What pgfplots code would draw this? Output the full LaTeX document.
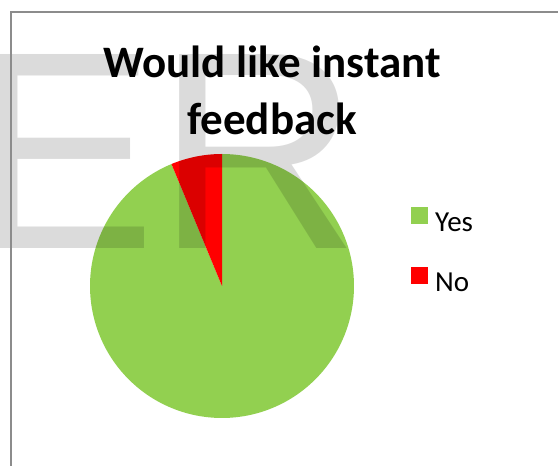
\documentclass[border=0pt]{standalone}
\usepackage{fontspec}
\setmainfont{Carlito}
\newfontfamily\wmfont{Liberation Sans}
\usepackage{pgfplots}
\pgfplotsset{compat=1.18}
\usepackage{pgfplotstable}
\definecolor{pieGreen}{HTML}{92D050}
\definecolor{pieRed}{HTML}{FF0000}
\definecolor{frameGray}{HTML}{8C8C8C}

\pgfplotstableread{
label value
Yes 15
No 1
}\piedata

\begin{document}
\begin{tikzpicture}[x=1pt,y=1pt]
\useasboundingbox (0,0) rectangle (558,466);
\clip (0,0) rectangle (558,466);
\fill[white] (0,0) rectangle (558,466);
\pgfplotstablegetelem{0}{value}\of\piedata \let\vYes\pgfplotsretval
\pgfplotstablegetelem{1}{value}\of\piedata \let\vNo\pgfplotsretval
\pgfmathsetmacro\startYes{90-360*\vYes/(\vYes+\vNo)}
\pgfmathsetmacro\endNo{90+360*\vNo/(\vYes+\vNo)}
\begin{axis}[at={(222pt,180pt)}, anchor=origin,
  width=264pt, height=264pt, scale only axis, hide axis,
  xmin=-1, xmax=1, ymin=-1, ymax=1, clip=false,
  legend image code/.code={\fill[#1] (0pt,-1pt) rectangle (17pt,16pt);},
  legend style={at={(axis description cs:1.216,0.637)}, anchor=west,
    draw=none, fill=none, inner sep=0pt, column sep=7pt, row sep=34pt,
    nodes={inner sep=0pt},
    font=\fontsize{29}{34}\selectfont},
  legend cell align=left]
\addplot[fill=pieGreen, draw=none, domain=\startYes:90, samples=241] ({cos(x)},{sin(x)}) -- (0,0) -- cycle;
\addlegendentry{Yes}
\addplot[fill=pieRed, draw=none, domain=90:\endNo, samples=31] ({cos(x)},{sin(x)}) -- (0,0) -- cycle;
\addlegendentry{No}
\end{axis}
\node[anchor=base west, inner sep=0pt, text=black, opacity=0.14, font=\wmfont\fontsize{282}{282}\selectfont] at (-32,217) {ER};
\node[anchor=base, inner sep=0pt, font=\fontsize{45}{55}\selectfont\bfseries] at (272,388) {Would like instant};
\node[anchor=base, inner sep=0pt, font=\fontsize{45}{55}\selectfont\bfseries] at (272,331) {feedback};
\draw[frameGray, line width=1.5pt] (11,0) -- (11,454) -- (558,454);
\end{tikzpicture}
\end{document}
